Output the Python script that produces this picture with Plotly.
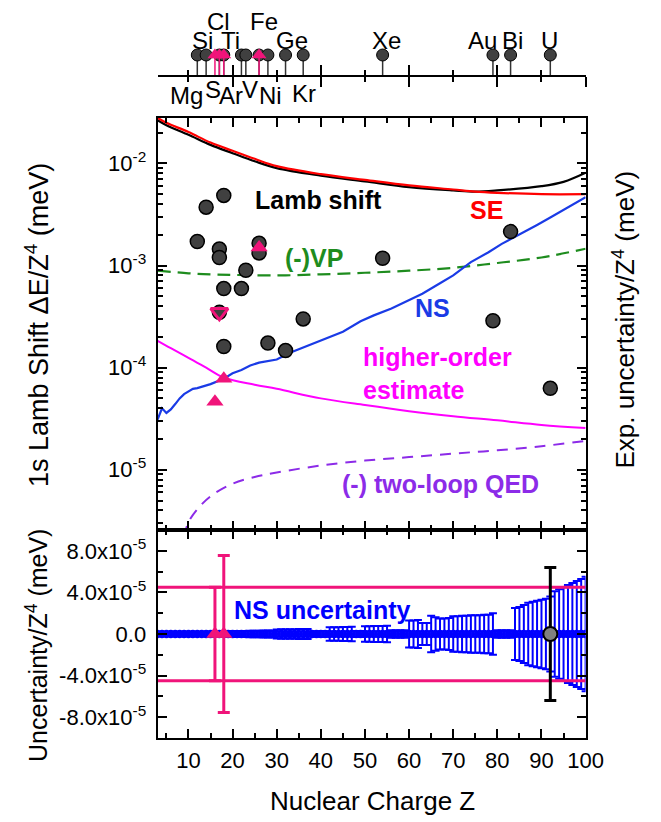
import plotly.graph_objects as go

W, H = 661, 822
def px(x):
    return x / W
def py(y):
    return 1 - y / H

Z_MIN, Z_MAX = 3, 100

# ---------------- theory curves (value / Z^4, meV) ----------------
LS_Z = [3, 5, 10, 15, 20, 25, 30, 40, 50, 60, 70, 75, 80, 90, 95, 100]
LS = [2.65e-2, 2.37e-2, 1.91e-2, 1.52e-2, 1.26e-2, 1.05e-2, 9.0e-3, 7.6e-3,
      6.67e-3, 5.86e-3, 5.44e-3, 5.3e-3, 5.44e-3, 5.99e-3, 6.6e-3, 8.1e-3]
SE_Z = [3, 5, 10, 15, 20, 25, 30, 40, 50, 60, 70, 75, 80, 90, 100]
SE = [2.8e-2, 2.5e-2, 2.03e-2, 1.6e-2, 1.33e-2, 1.11e-2, 9.4e-3, 7.85e-3,
      6.9e-3, 6.1e-3, 5.56e-3, 5.3e-3, 5.16e-3, 5.0e-3, 5.0e-3]
VP_Z = [3, 10, 15, 20, 30, 40, 50, 60, 70, 80, 90, 100]
VP = [8.9e-4, 8.4e-4, 8.2e-4, 8.1e-4, 8.0e-4, 8.2e-4, 8.5e-4, 8.9e-4,
      9.5e-4, 1.06e-3, 1.2e-3, 1.46e-3]
NS_Z = [3, 4, 5, 6, 7, 8, 9, 10, 11, 12, 13, 15, 18, 20, 22, 24, 26, 28, 30,
        33, 37, 41, 45, 49, 52, 56, 59, 63, 67, 70, 74, 78, 81, 85, 89, 92, 96, 100]
NS = [3.1e-5, 4.0e-5, 3.6e-5, 3.9e-5, 4.4e-5, 5.0e-5, 5.5e-5, 5.9e-5, 6.2e-5,
      6.3e-5, 6.5e-5, 6.9e-5, 7.8e-5, 8.8e-5, 9.5e-5, 1.05e-4, 1.12e-4, 1.16e-4,
      1.2e-4, 1.4e-4, 1.64e-4, 1.91e-4, 2.25e-4, 2.85e-4, 3.25e-4, 3.8e-4,
      4.36e-4, 5.3e-4, 6.7e-4, 8.0e-4, 1.08e-3, 1.35e-3, 1.63e-3, 2.0e-3,
      2.5e-3, 2.95e-3, 3.73e-3, 4.68e-3]
HO_Z = [3, 6, 10, 14, 18, 25, 30, 40, 50, 60, 70, 80, 90, 100]
HO = [1.83e-4, 1.55e-4, 1.25e-4, 1.0e-4, 8.0e-5, 6.8e-5, 6.2e-5, 5.0e-5,
      4.3e-5, 3.75e-5, 3.35e-5, 3.05e-5, 2.75e-5, 2.56e-5]
TL_Z = [9, 10, 12, 15, 20, 25, 30, 40, 50, 60, 70, 80, 90, 100]
TL = [2.2e-6, 3.07e-6, 4.1e-6, 5.5e-6, 7.3e-6, 8.5e-6, 9.4e-6, 1.1e-5,
      1.23e-5, 1.33e-5, 1.44e-5, 1.55e-5, 1.7e-5, 1.92e-5]

# ---------------- experimental uncertainties ----------------
EXP_Z = [12, 14, 17, 17, 17, 18, 18, 18, 22, 23, 26, 26, 28, 32, 36, 54, 79, 83, 92]
EXP = [1.72e-3, 3.73e-3, 1.45e-3, 1.2e-3, 3.48e-4, 4.86e-3, 5.95e-4, 1.61e-4,
       5.95e-4, 9.0e-4, 1.65e-3, 1.33e-3, 1.74e-4, 1.47e-4, 3.0e-4, 1.18e-3,
       2.88e-4, 2.15e-3, 6.27e-5]
PINK_UP_Z = [16, 18, 26]
PINK_UP = [4.64e-5, 7.77e-5, 1.5e-3]
PINK_DN_Z = [17]
PINK_DN = [3.48e-4]

# ---------------- bottom panel ----------------
NS_UNC_Z = list(range(3, 101))
NS_UNC = [1.0e-6, 1.0e-6, 1.2e-6, 1.2e-6, 1.3e-6, 1.5e-6, 1.5e-6, 1.6e-6, 1.8e-6,
          2.0e-6, 2.0e-6, 2.1e-6, 2.2e-6, 2.4e-6, 2.5e-6, 2.6e-6, 2.6e-6, 2.8e-6,
          2.8e-6, 3.0e-6, 3.0e-6, 3.1e-6, 3.2e-6, 3.2e-6, 3.3e-6, 3.4e-6, 3.4e-6,
          4.4e-6, 4.5e-6, 4.5e-6, 4.6e-6, 4.6e-6, 4.7e-6, 4.7e-6, 4.8e-6,
          2.5e-6, 2.5e-6, 2.6e-6, 2.6e-6,
          6.4e-6, 6.5e-6, 6.6e-6, 6.7e-6, 6.8e-6, 6.9e-6,
          3.0e-6, 3.0e-6,
          7.4e-6, 7.5e-6, 7.6e-6, 7.7e-6, 7.8e-6, 7.9e-6,
          3.5e-6, 3.5e-6, 3.6e-6, 3.6e-6,
          1.3e-5, 1.3e-5, 1.35e-5, 1.05e-5, 1.05e-5,
          1.75e-5, 1.6e-5, 1.5e-5, 1.5e-5, 1.55e-5,
          1.7e-5, 1.7e-5, 1.75e-5, 1.75e-5, 1.8e-5, 1.8e-5, 1.8e-5, 1.85e-5, 1.85e-5, 2.0e-5,
          3.5e-6, 3.5e-6, 3.6e-6, 3.6e-6,
          2.5e-5, 2.6e-5, 2.8e-5, 3.0e-5, 3.1e-5, 3.2e-5, 3.3e-5, 3.4e-5, 3.6e-5,
          4.1e-5, 4.3e-5, 4.5e-5, 4.7e-5, 4.9e-5, 5.1e-5, 5.3e-5, 5.5e-5]
BOT_PINK_Z = [16, 18]
BOT_PINK_ERR = [4.5e-5, 7.55e-5]
U_Z = [92]
U_ERR = [6.4e-5]
LIMIT = 4.5e-5

# ---------------- element strip ----------------
DARK_EL_Z = [12, 14, 17, 18, 22, 23, 26, 28, 32, 36, 54, 79, 83, 92]
PINK_EL_Z = [16, 17, 18, 26]
EL_UP = ["Si", "Cl", "Ti", "Fe", "Ge", "Xe", "Au", "Bi", "U"]
EL_DOWN = ["Mg", "S", "Ar", "V", "Ni", "Kr"]

MAIN_YT = [1e-5, 1e-4, 1e-3, 1e-2]
MAIN_YT_TEXT = ["10<sup>-5</sup>", "10<sup>-4</sup>", "10<sup>-3</sup>", "10<sup>-2</sup>"]
BOT_YT = [-8e-5, -4e-5, 0, 4e-5, 8e-5]
BOT_YT_TEXT = ["-8.0x10<sup>-5</sup>", "-4.0x10<sup>-5</sup>", "0.0",
               "4.0x10<sup>-5</sup>", "8.0x10<sup>-5</sup>"]
MINOR_LOG = [m * 10.0 ** e for e in range(-6, -1) for m in range(2, 10)]

# ---------------- styles ----------------
FONT = "Liberation Sans, Arial, sans-serif"
PINK = "#f0147a"
DARK = "#404040"
BLUE = "#0000ff"
NSBLUE = "#1a3be6"
GREEN = "#1e8c1e"
PURPLE = "#8c2be8"
MAGENTA = "#ff00ff"

fig = go.Figure()
M = dict(xaxis="x", yaxis="y")
fig.add_trace(go.Scatter(x=TL_Z, y=TL, mode="lines", line=dict(color=PURPLE, width=2, dash="11px,8px", shape="spline"), **M))
fig.add_trace(go.Scatter(x=HO_Z, y=HO, mode="lines", line=dict(color=MAGENTA, width=2, shape="spline"), **M))
fig.add_trace(go.Scatter(x=VP_Z, y=VP, mode="lines", line=dict(color=GREEN, width=2.2, dash="13px,7px", shape="spline"), **M))
fig.add_trace(go.Scatter(x=NS_Z, y=NS, mode="lines", line=dict(color=NSBLUE, width=2.2), **M))
fig.add_trace(go.Scatter(x=LS_Z, y=LS, mode="lines", line=dict(color="black", width=2.2, shape="spline"), **M))
fig.add_trace(go.Scatter(x=SE_Z, y=SE, mode="lines", line=dict(color="red", width=2.2, shape="spline"), **M))
fig.add_trace(go.Scatter(x=EXP_Z, y=EXP, mode="markers",
                         marker=dict(symbol="circle", size=14, color=DARK, line=dict(color="black", width=1.5)), **M))
fig.add_trace(go.Scatter(x=PINK_UP_Z, y=PINK_UP, mode="markers",
                         marker=dict(symbol="triangle-up", size=15, color=PINK, line=dict(width=0)), **M))
fig.add_trace(go.Scatter(x=PINK_DN_Z, y=PINK_DN, mode="markers",
                         marker=dict(symbol="triangle-down-open", size=15, color=PINK, line=dict(color=PINK, width=3)), **M))

B = dict(xaxis="x2", yaxis="y2")
fig.add_trace(go.Scatter(x=NS_UNC_Z, y=[0] * len(NS_UNC_Z), mode="markers",
                         marker=dict(symbol="circle-open", size=6, color=BLUE, line=dict(color=BLUE, width=2.5)),
                         error_y=dict(type="data", array=NS_UNC, color=BLUE, thickness=2, width=4), **B))
fig.add_trace(go.Scatter(x=[Z_MIN, Z_MAX], y=[LIMIT, LIMIT], mode="lines", line=dict(color=PINK, width=3), **B))
fig.add_trace(go.Scatter(x=[Z_MIN, Z_MAX], y=[-LIMIT, -LIMIT], mode="lines", line=dict(color=PINK, width=3), **B))
fig.add_trace(go.Scatter(x=BOT_PINK_Z, y=[0] * len(BOT_PINK_Z), mode="markers",
                         marker=dict(symbol="triangle-up", size=15, color=PINK, line=dict(width=0)),
                         error_y=dict(type="data", array=BOT_PINK_ERR, color=PINK, thickness=3, width=6), **B))
fig.add_trace(go.Scatter(x=U_Z, y=[0] * len(U_Z), mode="markers",
                         marker=dict(symbol="circle", size=14, color="#808080", line=dict(color="black", width=2)),
                         error_y=dict(type="data", array=U_ERR, color="black", thickness=3, width=6), **B))

S = dict(xaxis="x3", yaxis="y3")
STEM = 1
fig.add_trace(go.Scatter(x=DARK_EL_Z, y=[STEM] * len(DARK_EL_Z), mode="markers",
                         marker=dict(symbol="circle", size=12, color=DARK, line=dict(color="black", width=1)),
                         error_y=dict(type="data", symmetric=False, array=[0] * len(DARK_EL_Z),
                                      arrayminus=[STEM] * len(DARK_EL_Z), width=0, thickness=1.5, color="#333333"), **S))
fig.add_trace(go.Scatter(x=PINK_EL_Z, y=[STEM] * len(PINK_EL_Z), mode="markers",
                         marker=dict(symbol="triangle-up", size=13, color=PINK, line=dict(width=0)),
                         error_y=dict(type="data", symmetric=False, array=[0] * len(PINK_EL_Z),
                                      arrayminus=[STEM] * len(PINK_EL_Z), width=0, thickness=1.5, color=PINK), **S))
fig.add_trace(go.Scatter(x=[Z_MIN], y=[0], mode="markers", marker=dict(opacity=0), xaxis="x4", yaxis="y3",
                         hoverinfo="skip"))

XD = [px(162), px(602)]
ax = dict(showline=True, linecolor="black", linewidth=2, mirror="allticks", ticks="inside",
          tickcolor="black", tickwidth=2, showgrid=False, zeroline=False,
          tickfont=dict(family=FONT, size=22, color="black"))
xminor = dict(dtick=5, tick0=0, ticks="inside", ticklen=5, tickwidth=2, tickcolor="black", showgrid=False)

fig.update_layout(
    width=W, height=H, margin=dict(l=0, r=0, t=0, b=0),
    paper_bgcolor="white", plot_bgcolor="white", showlegend=False,
    font=dict(family=FONT, color="black"),
    xaxis=dict(ax, domain=XD, anchor="y", range=[Z_MIN, Z_MAX], dtick=10, tick0=0, ticklen=9,
               minor=xminor, showticklabels=False),
    yaxis=dict(ax, domain=[py(530), py(117.5)], anchor="x", type="log", range=[-5.59, -1.55],
               tickvals=MAIN_YT, ticktext=MAIN_YT_TEXT, ticklen=9, ticklabelstandoff=5,
               minor=dict(tickvals=MINOR_LOG, ticks="inside", ticklen=5, tickwidth=1.5, tickcolor="black", showgrid=False)),
    xaxis2=dict(ax, domain=XD, anchor="y2", range=[Z_MIN, Z_MAX], dtick=10, tick0=0, ticklen=9,
                minor=xminor, matches="x", ticklabelstandoff=2, ticklabeloverflow="allow"),
    yaxis2=dict(ax, domain=[py(738), py(530)], anchor="x2", range=[-1e-4, 1e-4],
                tickvals=BOT_YT, ticktext=BOT_YT_TEXT, ticklen=9, ticklabelstandoff=5,
                minor=dict(dtick=2e-5, tick0=0, ticks="inside", ticklen=5, tickwidth=2, tickcolor="black", showgrid=False)),
    xaxis3=dict(domain=XD, anchor="y3", range=[Z_MIN, Z_MAX], showline=True, linecolor="black", linewidth=2,
                ticks="outside", dtick=20, tick0=0, ticklen=10, tickwidth=2, tickcolor="black",
                minor=dict(dtick=10, tick0=0, ticks="outside", ticklen=5, tickwidth=2, tickcolor="black"),
                showticklabels=False, showgrid=False, zeroline=False),
    xaxis4=dict(overlaying="x3", anchor="y3", range=[Z_MIN, Z_MAX], showline=False,
                ticks="inside", dtick=20, tick0=0, ticklen=10, tickwidth=2, tickcolor="black",
                minor=dict(dtick=10, tick0=0, ticks="inside", ticklen=5, tickwidth=2, tickcolor="black"),
                showticklabels=False, showgrid=False, zeroline=False),
    yaxis3=dict(domain=[py(75), 1.0], anchor="x3", range=[0, 3.75], visible=False),
)

# element labels (pixel placement)
EL_POS = {"Si": (208, 40), "Cl": (225, 21), "Ti": (237, 40), "Fe": (271, 21), "Ge": (300, 40),
          "Xe": (397, 40), "Au": (496, 40), "Bi": (527, 40), "U": (565, 40),
          "Mg": (192, 96), "S": (219, 90), "Ar": (237, 95), "V": (257, 90), "Ni": (278, 96), "Kr": (312, 93)}
for name in EL_UP + EL_DOWN:
    x, y = EL_POS[name]
    fig.add_annotation(x=px(x), y=py(y), xref="paper", yref="paper", text=name, showarrow=False,
                       font=dict(family=FONT, size=24, color="black"), xanchor="center", yanchor="middle")

def label(text, x, y, color, size=25, anchor="center", bold=True, angle=0):
    t = f"<b>{text}</b>" if bold else text
    fig.add_annotation(x=px(x), y=py(y), xref="paper", yref="paper", text=t, showarrow=False,
                       textangle=angle, font=dict(family=FONT, size=size, color=color),
                       xanchor=anchor, yanchor="middle")

label("Lamb shift", 327, 200, "black")
label("SE", 500, 210, "red")
label("(-)VP", 323, 258, GREEN)
label("NS", 445, 308, NSBLUE)
label("higher-order", 371, 357, MAGENTA, anchor="left")
label("estimate", 371, 390, MAGENTA, anchor="left")
label("(-) two-loop QED", 350, 484, PURPLE, anchor="left")
label("NS uncertainty", 332, 610, BLUE)

label("1s Lamb Shift \u0394E/Z<sup>4</sup> (meV)", 38, 325, "black", size=27, bold=False, angle=-90)
label("Uncertainty/Z<sup>4</sup> (meV)", 38, 645, "black", size=25, bold=False, angle=-90)
label("Exp. uncertainty/Z<sup>4</sup> (meV)", 641, 320, "black", size=26, bold=False, angle=-90)
label("Nuclear Charge Z", 383, 801, "black", size=26, bold=False)

fig.write_html("out.html",
               post_script="document.documentElement.style.overflow='hidden';"
                           "document.body.style.margin='0';document.body.style.overflow='hidden';"
                           "window.dispatchEvent(new Event('resize'));")
